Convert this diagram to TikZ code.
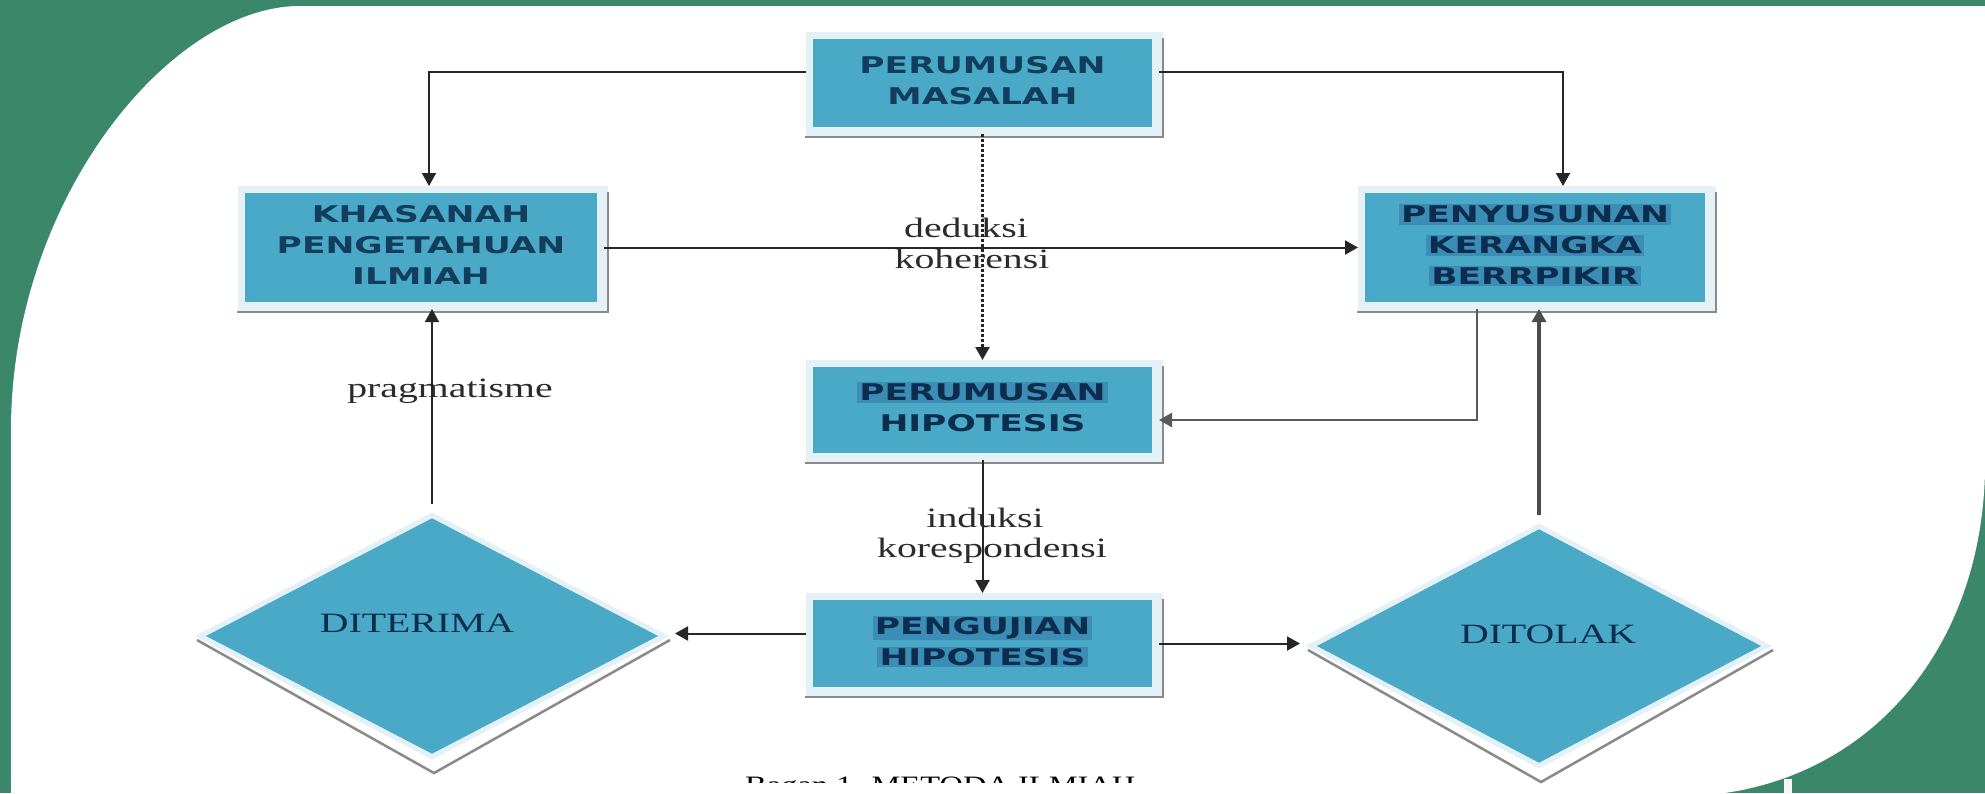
\documentclass[tikz,border=0pt]{standalone}
\usepackage{fontspec}
\setmainfont{Liberation Serif}
\newfontfamily\boxfont{DejaVu Sans}
\usetikzlibrary{shapes.geometric,arrows.meta,calc}
\definecolor{bggreen}{HTML}{3A876A}
\definecolor{boxblue}{HTML}{49A9C7}
\definecolor{framec}{HTML}{E4F2F7}
\definecolor{shadowc}{HTML}{8A8A8A}
\definecolor{navy}{HTML}{0C2D4E}
\definecolor{navyl}{HTML}{123D5C}
\definecolor{hlblue}{HTML}{3B8DB5}
\definecolor{labelc}{HTML}{2B2B2B}
\pgfdeclarelayer{bg}
\pgfdeclarelayer{frames}
\pgfsetlayers{bg,frames,main}
\newcommand{\boxtxt}[1]{\scalebox{1.5}[1]{\boxfont\bfseries\fontsize{23}{31}\selectfont\color{navyl}\begin{tabular}{@{}c@{}}#1\end{tabular}}}
\newcommand{\boxtxtb}[1]{\scalebox{1.5}[1]{\boxfont\bfseries\fontsize{23}{31}\selectfont\setlength{\fboxsep}{1.5pt}\begin{tabular}{@{}c@{}}#1\end{tabular}}}
\newcommand{\hlt}[1]{\colorbox{hlblue}{#1}}
\newcommand{\lbl}[1]{\scalebox{1.42}[1]{\fontsize{28}{30}\selectfont #1}}
\tikzset{
  box/.style={rectangle, fill=boxblue, inner sep=0pt, outer sep=7pt, text=navy},
  dia/.style={diamond, fill=boxblue, draw=framec, line width=5pt, inner sep=0pt, outer sep=8pt},
  arr/.style={-{Triangle[length=13pt,width=14pt]}, line width=2pt, draw=black!85},
  lab/.style={inner sep=0pt, anchor=base, text=labelc},
}
\begin{document}
\begin{tikzpicture}[x=1pt,y=-1pt]
\useasboundingbox (0,0) rectangle (1985,793);
\begin{pgfonlayer}{bg}
\fill[bggreen] (0,0) rectangle (1985,793);
\fill[white] (11,793) -- (11,430) .. controls (11,200) and (170,6) .. (300,6) -- (1985,6) -- (1985,470) .. controls (1982,640) and (1880,770) .. (1725,793) -- cycle;
\fill[white!93!gray] (1784,779) rectangle (1792,793);
\end{pgfonlayer}

\node[box, minimum width=339pt, minimum height=88pt] (pm) at (982.5,83) {\boxtxt{PERUMUSAN\\MASALAH}};
\node[box, minimum width=352pt, minimum height=109pt] (kh) at (421,247.5) {\boxtxt{KHASANAH\\PENGETAHUAN\\ILMIAH}};
\node[box, minimum width=340pt, minimum height=109pt] (ps) at (1535,247.5) {\boxtxtb{\hlt{PENYUSUNAN}\\\hlt{KERANGKA}\\\hlt{BERRPIKIR}}};
\node[box, minimum width=339pt, minimum height=86pt] (ph) at (982.5,410) {\boxtxtb{\hlt{PERUMUSAN}\\HIPOTESIS}};
\node[box, minimum width=339pt, minimum height=87pt] (pg) at (982.5,643.5) {\boxtxtb{\hlt{PENGUJIAN}\\\hlt{HIPOTESIS}}};

\node[dia, minimum width=470pt, minimum height=248pt] (dt) at (432,636) {};
\node[dia, minimum width=462pt, minimum height=246pt] (do) at (1539,646) {};
\node[lab, text=navy] (dtl) at (417,632) {\lbl{DITERIMA}};
\node[lab, text=navy] (dol) at (1548,643) {\lbl{DITOLAK}};

\node[lab] (l1) at (450,397) {\lbl{pragmatisme}};
\node[lab] (l2) at (966,237) {\lbl{deduksi}};
\node[lab] (l3) at (972,268) {\lbl{koherensi}};
\node[lab] (l4) at (985,527) {\lbl{induksi}};
\node[lab] (l5) at (992,557) {\lbl{korespondensi}};

\begin{scope}
\clip (600,760) rectangle (1300,782);
\node[lab, anchor=base west, text=black] (cap) at (745,793.5) {\scalebox{1.3}[1]{\fontsize{25}{27}\selectfont Bagan 1. METODA ILMIAH}};
\end{scope}

\begin{pgfonlayer}{frames}
\foreach \b in {pm,kh,ps,ph,pg}{
  \fill[framec] (\b.north west) rectangle ([shift={(4,3)}]\b.south east);
  \draw[shadowc, line width=2pt] ([shift={(4,6)}]\b.north east) -- ([shift={(4,3)}]\b.south east) -- ([shift={(-1,3)}]\b.south west);
}
\foreach \d in {dt,do}{
  \draw[shadowc, line width=2.5pt] ([shift={(8,4)}]\d.west) -- ([shift={(2,5)}]\d.south) -- ([shift={(-5,4)}]\d.east);
}
\end{pgfonlayer}

\draw[arr] ([yshift=11pt]pm.west) -| ([xshift=8pt]kh.north);
\draw[arr] ([yshift=11pt]pm.east) -| ([xshift=28pt]ps.north);
\draw[arr] (kh.east) -- (ps.west);
\draw[arr, dash pattern=on 2.5pt off 2.5pt, line width=2.5pt] (pm.south) -- (ph.north);
\draw[arr, draw=gray!70!black, line width=2.5pt] ([xshift=-58pt]ps.south) |- ([yshift=-10pt]ph.east);
\draw[arr] (ph.south) -- (pg.north);
\coordinate (pgw) at ([yshift=10pt]pg.west);
\draw[arr] (pgw) -- (pgw -| dt.east);
\draw[arr] (pg.east) -- (pg.east -| do.west);
\draw[arr] (dt.north) -- (dt.north |- kh.south);
\draw[arr, draw=gray!60!black, line width=4pt] (do.north) -- (do.north |- ps.south);
\end{tikzpicture}
\end{document}
